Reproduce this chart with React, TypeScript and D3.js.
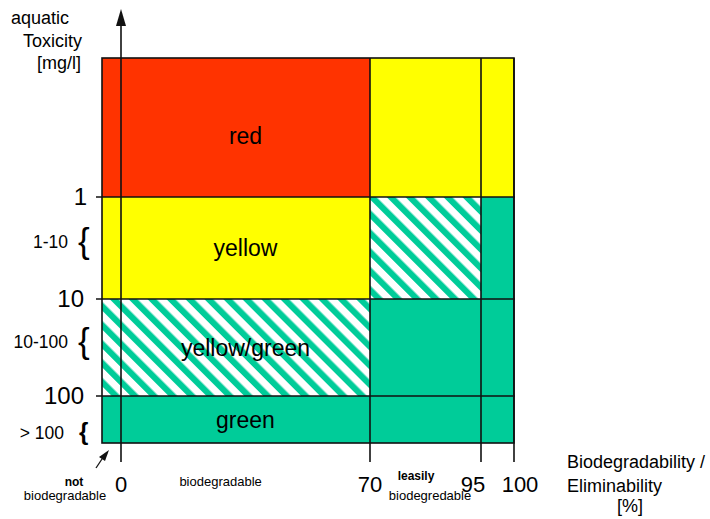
import React from "react";
import * as d3 from "d3";

// ---- data ----
const xTickValues = [0, 70, 95, 100];
const yBoundaryValues = [1, 10, 100];
const yBoundaryLabels = ["1", "10", "100"];
const rangeLabels = ["1-10", "10-100", "> 100"];
const rangeLabelValues = [5, 50, 800];
const cellX0 = [-5, 70, -5, -5, 70, 95, 70, -5];
const cellX1 = [70, 100, 70, 70, 95, 100, 95, 70];
const cellY0 = [0, 0, 1, 10, 1, 1, 10, 100];
const cellY1 = [1, 1, 10, 100, 10, 1000, 1000, 1000];
const cellClass = ["red", "yellow", "yellow", "hatch", "hatch", "green", "green", "green"];
const bandNames = ["red", "yellow", "yellow/green", "green"];
const bandY0 = [0, 1, 10, 100];
const bandY1 = [1, 10, 100, 1000];

const FONT = "'Liberation Sans', Arial, Helvetica, sans-serif";
const fills: Record<string, string> = {
  red: "#FF3300",
  yellow: "#FFFF00",
  green: "#00CC99",
  hatch: "url(#hatch)",
};
const xLabelDx: Record<number, number> = { 0: 0, 70: 0, 95: -8, 100: 6 };
const yLabelDx: Record<string, number> = { "1": 3, "10": 0, "100": 0 };

export default function App() {
  const x = d3.scaleLinear().domain([-5, 0, 70, 95, 100]).range([102, 121, 370, 481, 514]);
  const y = d3.scaleLinear().domain([0, 1, 10, 100, 1000]).range([58, 197, 299, 396, 443]);
  const lineColor = "#111";
  const sw = 1.6;
  const left = x(-5), right = x(100), top = y(0), bottom = y(1000);
  const tickEnd = 462;
  const labelCx = (x(0) + x(70)) / 2;

  return (
    <svg width={710} height={519} style={{ position: "absolute", left: 0, top: 0, background: "#fff" }} fontFamily={FONT}>
      <defs>
        <pattern id="hatch" patternUnits="userSpaceOnUse" width={13.4} height={13.4} patternTransform="rotate(-45)">
          <rect width={13.4} height={13.4} fill="#fff" />
          <rect width={6.2} height={13.4} fill="#00CC99" />
        </pattern>
      </defs>

      {cellClass.map((c, i) => (
        <rect key={i} x={x(cellX0[i])} y={y(cellY0[i])} width={x(cellX1[i]) - x(cellX0[i])} height={y(cellY1[i]) - y(cellY0[i])} fill={fills[c]} />
      ))}

      {/* outer border */}
      <rect x={left} y={top} width={right - left} height={bottom - top} fill="none" stroke={lineColor} strokeWidth={sw} />

      {/* horizontal boundaries with ticks */}
      {yBoundaryValues.map((v, i) => (
        <line key={i} x1={96} x2={right + 1} y1={y(v)} y2={y(v)} stroke={lineColor} strokeWidth={sw} />
      ))}
      {/* vertical lines */}
      {xTickValues.slice(1).map((v, i) => (
        <line key={i} x1={x(v)} x2={x(v)} y1={top} y2={tickEnd} stroke={lineColor} strokeWidth={sw} />
      ))}

      {/* y axis with arrow */}
      <line x1={x(0)} x2={x(0)} y1={tickEnd} y2={20} stroke={lineColor} strokeWidth={sw} />
      <polygon points={`${x(0)},9 ${x(0) - 5},26 ${x(0) + 5},26`} fill={lineColor} />

      {/* band labels */}
      {bandNames.map((n, i) => (
        <text key={i} x={labelCx} y={(y(bandY0[i]) + y(bandY1[i])) / 2} dy={i === 0 ? "0.7em" : "0.35em"} textAnchor="middle" fontSize={23}>{n}</text>
      ))}

      {/* y boundary labels */}
      {yBoundaryValues.map((v, i) => (
        <text key={i} x={84 + yLabelDx[yBoundaryLabels[i]]} y={y(v)} dy="0.35em" textAnchor="end" fontSize={24}>{yBoundaryLabels[i]}</text>
      ))}
      {rangeLabels.map((l, i) => (
        <g key={i}>
          <text x={i < 2 ? 68 : 64} y={y(rangeLabelValues[i])} dy="0.35em" textAnchor="end" fontSize={17.5}>{l}</text>
          {i < 2 ? (
            <text x={78} y={y(rangeLabelValues[i])} dy="0.3em" fontSize={35}>{"{"}</text>
          ) : (
            <text x={79} y={y(rangeLabelValues[i])} dy="0.3em" fontSize={24} fontWeight="bold">{"{"}</text>
          )}
        </g>
      ))}

      {/* y title */}
      <text x={11} y={24} fontSize={18}>aquatic</text>
      <text x={23} y={47} fontSize={18}>Toxicity</text>
      <text x={37} y={69} fontSize={18}>[mg/l]</text>

      {/* x tick labels */}
      {xTickValues.map((v, i) => (
        <text key={i} x={x(v) + xLabelDx[v]} y={492} textAnchor="middle" fontSize={22}>{v}</text>
      ))}

      {/* x annotations */}
      <text x={74} y={486} textAnchor="middle" fontSize={12} fontWeight="bold">not</text>
      <text x={65} y={500} textAnchor="middle" fontSize={13}>biodegradable</text>
      <text x={x(28)} y={486} textAnchor="middle" fontSize={13}>biodegradable</text>
      <text x={416} y={480} textAnchor="middle" fontSize={12} fontWeight="bold">leasily</text>
      <text x={430} y={500} textAnchor="middle" fontSize={13}>biodegredable</text>

      {/* small arrow */}
      <line x1={96} y1={468} x2={104} y2={456} stroke={lineColor} strokeWidth={1.3} />
      <polygon points="109,450 99,457 105,461" fill={lineColor} />

      {/* x title */}
      <text x={567} y={468} fontSize={18}>Biodegradability /</text>
      <text x={567} y={492} fontSize={18}>Eliminability</text>
      <text x={617} y={512} fontSize={18}>[%]</text>
    </svg>
  );
}
